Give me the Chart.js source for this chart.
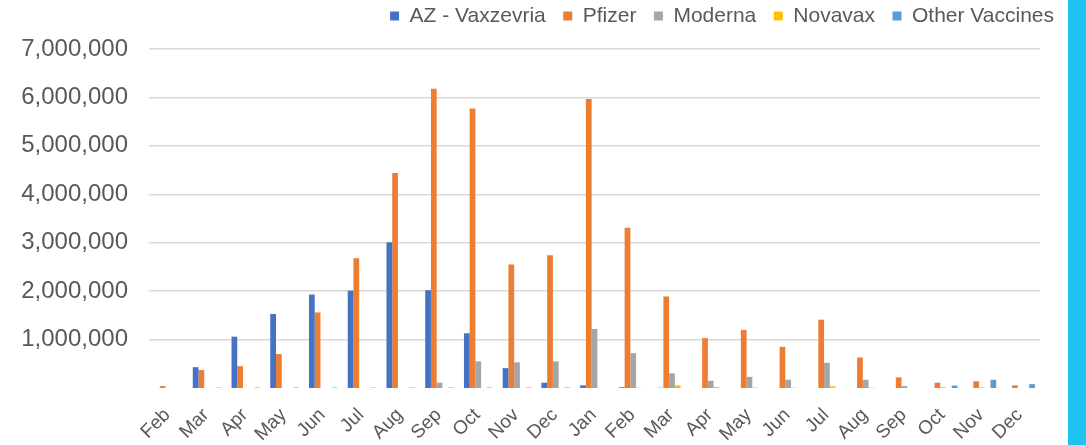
<!DOCTYPE html>
<html>
<head>
<meta charset="utf-8">
<script src="https://cdn.jsdelivr.net/npm/chart.js@4"></script>
<style>
  html, body { margin: 0; padding: 0; background: #fff; }
  #wrap { position: relative; width: 1086px; height: 445px; overflow: hidden; }
  #edge { position: absolute; left: 1068px; top: 0; width: 18px; height: 445px; background: #1ec3f2; }
</style>
</head>
<body>
<div id="wrap">
  <canvas id="chart"></canvas>
  <div id="edge"></div>
</div>
<script>
// monthly doses, Feb 2021 - Dec 2022
const months = ['Feb', 'Mar', 'Apr', 'May', 'Jun', 'Jul', 'Aug', 'Sep', 'Oct', 'Nov', 'Dec',
                'Jan', 'Feb', 'Mar', 'Apr', 'May', 'Jun', 'Jul', 'Aug', 'Sep', 'Oct', 'Nov', 'Dec'];

const azDoses = [0, 430000, 1060000, 1530000, 1930000, 2010000, 3010000, 2020000, 1130000, 410000, 110000,
                 55000, 15000, 5000, 0, 0, 0, 0, 0, 0, 0, 0, 0];
const pfizerDoses = [40000, 370000, 450000, 700000, 1560000, 2680000, 4440000, 6180000, 5770000, 2550000, 2740000,
                     5970000, 3310000, 1890000, 1030000, 1200000, 850000, 1410000, 630000, 220000, 110000, 140000, 55000];
const modernaDoses = [0, 0, 0, 0, 0, 0, 0, 110000, 550000, 530000, 550000,
                      1220000, 720000, 300000, 150000, 230000, 170000, 520000, 170000, 40000, 10000, 10000, 0];
const novavaxDoses = [0, 0, 0, 0, 0, 0, 0, 0, 0, 0, 0,
                      0, 5000, 55000, 20000, 10000, 8000, 35000, 8000, 0, 0, 0, 0];
const otherDoses = [0, 8000, 8000, 8000, 8000, 8000, 8000, 8000, 8000, 8000, 8000,
                    0, 0, 0, 0, 0, 0, 0, 0, 0, 50000, 170000, 80000];

const yTicks = [1000000, 2000000, 3000000, 4000000, 5000000, 6000000, 7000000];

const textColor = '#595959';
const gridColor = '#d9d9d9';
const fontFamily = '"Liberation Sans", Arial, sans-serif';

new Chart(document.getElementById('chart'), {
    type: 'bar',
    data: {
        labels: months,
        datasets: [
            { label: 'AZ - Vaxzevria', data: azDoses, backgroundColor: '#4472c4' },
            { label: 'Pfizer', data: pfizerDoses, backgroundColor: '#ed7d31' },
            { label: 'Moderna', data: modernaDoses, backgroundColor: '#a5a5a5' },
            { label: 'Novavax', data: novavaxDoses, backgroundColor: '#ffc000' },
            { label: 'Other Vaccines', data: otherDoses, backgroundColor: '#5b9bd5' }
        ]
    },
    options: {
        responsive: true,
        maintainAspectRatio: false,
        animation: false,
        datasets: { bar: { categoryPercentage: 0.74, barPercentage: 1, borderWidth: 0 } },
        layout: { padding: { top: -12, right: 14.5, left: 0, bottom: 0 } },
        plugins: {
            tooltip: { enabled: false },
            // empty title only used as a spacer between legend and plot
            title: {
                display: true,
                text: '',
                weight: 500,
                font: { size: 10 },
                padding: { top: 0, bottom: 0.5 }
            },
            legend: {
                position: 'top',
                align: 'end',
                labels: {
                    color: textColor,
                    boxWidth: 9,
                    boxHeight: 9,
                    padding: 17.5,
                    font: { family: fontFamily, size: 21 }
                }
            }
        },
        scales: {
            x: {
                grid: { display: false },
                border: { display: false },
                ticks: {
                    color: textColor,
                    minRotation: 45,
                    maxRotation: 45,
                    autoSkip: false,
                    padding: 8,
                    labelOffset: -1,
                    font: { family: fontFamily, size: 19 }
                },
                afterFit: s => { s.height = 57; }
            },
            y: {
                min: 0,
                max: 7000000,
                border: { display: false },
                grid: { color: gridColor, lineWidth: 1.5, drawTicks: false },
                afterBuildTicks: s => { s.ticks = yTicks.map(v => ({ value: v })); },
                ticks: {
                    color: textColor,
                    padding: 21,
                    font: { family: fontFamily, size: 24 },
                    callback: v => v.toLocaleString('en-US')
                },
                afterFit: s => { s.width = 149; }
            },
            yRight: {
                position: 'right',
                grid: { display: false },
                border: { display: false },
                ticks: { display: false },
                afterFit: s => { s.width = 31.5; }
            }
        }
    }
});
</script>
</body>
</html>
